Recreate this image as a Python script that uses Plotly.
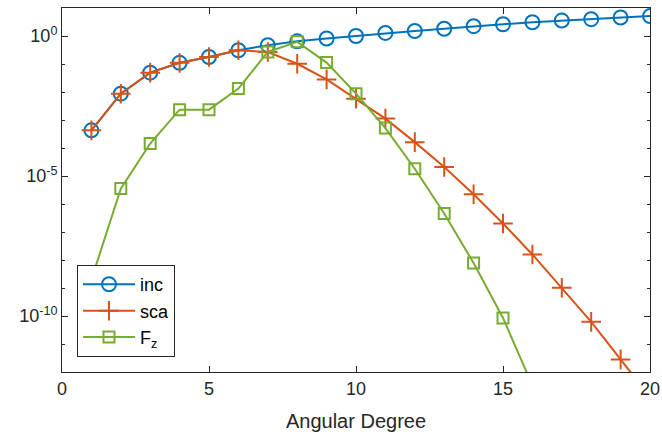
import plotly.graph_objects as go

degree = list(range(1, 21))
inc = [4.27e-4, 8.71e-3, 4.90e-2, 0.110, 0.178, 0.309, 0.468, 0.646, 0.813, 1.0,
       1.29, 1.51, 1.82, 2.24, 2.63, 3.09, 3.55, 3.98, 4.57, 5.13]
sca = [4.27e-4, 8.71e-3, 4.90e-2, 0.110, 0.178, 0.309, 0.269, 0.102, 2.82e-2, 5.75e-3,
       1.12e-3, 1.62e-4, 2.09e-5, 2.24e-6, 2.0e-7, 1.58e-8, 1.02e-9, 6.17e-11, 2.82e-12, 1.26e-13]
fz_degree = list(range(1, 17))
fz = [2.0e-9, 3.55e-6, 1.45e-4, 2.34e-3, 2.34e-3, 1.32e-2, 0.269, 0.617, 0.112, 8.71e-3,
      5.13e-4, 1.82e-5, 4.57e-7, 7.76e-9, 8.51e-11, 3.31e-13]

x_ticks = [0, 5, 10, 15, 20]
y_ticks = [1e-10, 1e-5, 1e0]
y_ticktext = ["10<sup>-10</sup>", "10<sup>-5</sup>", "10<sup>0</sup>"]

AX = "#262626"
fig = go.Figure()
fig.add_trace(go.Scatter(x=degree, y=inc, name="inc", mode="lines+markers",
                         line=dict(color="#0072BD", width=2),
                         marker=dict(symbol="circle-open", size=14, color="#0072BD",
                                     line=dict(width=2, color="#0072BD"))))
fig.add_trace(go.Scatter(x=degree, y=sca, name="sca", mode="lines+markers",
                         line=dict(color="#D95319", width=2),
                         marker=dict(symbol="cross-thin-open", size=14, color="#D95319",
                                     line=dict(width=2, color="#D95319"))))
fig.add_trace(go.Scatter(x=fz_degree, y=fz, name="F<sub>z</sub>", mode="lines+markers",
                         line=dict(color="#77AC30", width=2),
                         marker=dict(symbol="square-open", size=11, color="#77AC30",
                                     line=dict(width=2, color="#77AC30"))))

fig.update_layout(
    width=662, height=434,
    margin=dict(l=62, r=12, t=8, b=62, autoexpand=False),
    paper_bgcolor="white", plot_bgcolor="white",
    font=dict(family="Liberation Sans, Arial, sans-serif", size=18, color=AX),
    showlegend=True,
    legend=dict(x=0.0255, y=0.041, xanchor="left", yanchor="bottom",
                bgcolor="white", bordercolor=AX, borderwidth=1,
                font=dict(size=18, color="#000000"), tracegroupgap=0,
                itemwidth=52),
)
fig.update_xaxes(range=[0, 20], tickvals=x_ticks, ticks="inside", ticklen=6,
                 tickcolor=AX, showline=True, linecolor=AX, linewidth=1,
                 mirror="ticks", showgrid=False, zeroline=False, automargin=False,
                 title=dict(text="Angular Degree", font=dict(size=20), standoff=16))
fig.update_yaxes(type="log", range=[-12, 1], tickmode="array", tickvals=y_ticks,
                 ticktext=y_ticktext, ticks="inside", ticklen=6, tickcolor=AX,
                 showline=True, linecolor=AX, linewidth=1, mirror="ticks",
                 showgrid=False, zeroline=False, automargin=False,
                 minor=dict(dtick=1, ticks="inside", ticklen=3, tickcolor=AX, showgrid=False))

fig.write_html("out.html", config={"displayModeBar": False},
               post_script="document.body.style.margin='0';document.body.style.overflow='hidden';")
